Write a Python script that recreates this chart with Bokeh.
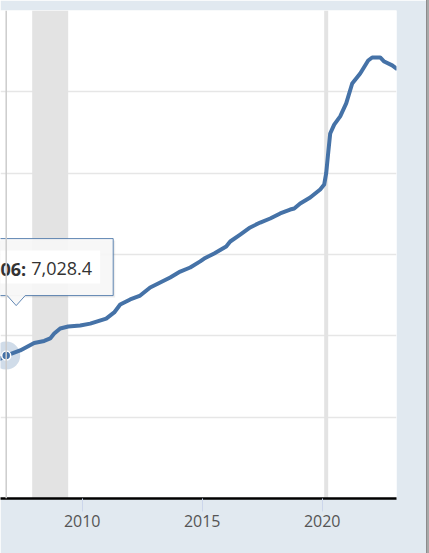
from bokeh.plotting import figure
from bokeh.models import FixedTicker, Span
from bokeh.core.properties import value
from bokeh.embed import file_html
from bokeh.resources import INLINE

# ---- data (M2 money stock, billions of dollars) ----
dates = ["2006-08", "2006-11", "2007-06", "2008-01", "2008-06", "2008-09", "2008-11",
         "2009-02", "2009-06", "2009-12", "2010-05", "2011-01", "2011-05", "2011-08",
         "2012-01", "2012-06", "2012-11", "2013-04", "2013-09", "2014-02", "2014-07",
         "2014-12", "2015-02", "2015-07", "2016-01", "2016-03", "2016-08", "2017-01",
         "2017-06", "2017-11", "2018-04", "2018-09", "2018-11", "2019-02", "2019-07",
         "2019-12", "2020-02", "2020-03", "2020-04", "2020-05", "2020-07", "2020-10",
         "2021-01", "2021-04", "2021-08", "2021-12", "2022-02", "2022-06", "2022-08",
         "2022-12", "2023-02"]
m2 = [6880, 7028.4, 7280, 7650, 7750, 7870, 8110,
      8360, 8460, 8510, 8600, 8850, 9150, 9540,
      9790, 9980, 10380, 10620, 10870, 11160, 11360,
      11660, 11800, 12050, 12390, 12640, 12980, 13330,
      13570, 13770, 14020, 14210, 14260, 14510, 14800,
      15200, 15440, 16000, 17000, 17950, 18390, 18790,
      19430, 20410, 20900, 21540, 21690, 21690, 21490,
      21300, 21150]

rec_start = ["2007-12", "2020-02"]
rec_end = ["2009-06", "2020-04"]

tip_date = "2006-11"
tip_value = 7028.4
tip_label = "Nov 2006:"

x_ticks = [2010, 2015, 2020]
y_grid = [0, 4000, 8000, 12000, 16000, 20000]
x_start, x_end = 2006.596, 2023.096
y_start, y_end = 0, 24000

BLUE = "#4572a7"


def dec(s):
    yy, mm = s.split("-")
    return int(yy) + (int(mm) - 1) / 12.0


t = [dec(d) for d in dates]

FW, FH = 396, 488
p = figure(frame_width=FW, frame_height=FH,
           x_range=(x_start, x_end), y_range=(y_start, y_end),
           output_backend="svg", toolbar_location=None,
           min_border_left=0, min_border_right=30,
           min_border_top=10, min_border_bottom=55,
           background_fill_color="white", border_fill_color="#e1e9f0")
p.outline_line_color = None
p.styles = {"box-shadow": "1px 0 0 0 #8c8c8c, 3px 0 0 0 #a8a8a8"}

# grid
p.xgrid.visible = False
p.ygrid.ticker = FixedTicker(ticks=y_grid)
p.ygrid.grid_line_color = "#e6e6e6"
p.ygrid.grid_line_width = 1.5

# axes
p.yaxis.visible = False
ax = p.xaxis[0]
ax.ticker = FixedTicker(ticks=x_ticks)
ax.axis_line_color = "black"
ax.axis_line_width = 2.5
ax.major_tick_line_color = "#ccd6eb"
ax.major_tick_line_width = 1
ax.major_tick_out = 13
ax.major_tick_in = 0
ax.minor_tick_line_color = None
ax.major_label_text_font = "Open Sans"
ax.major_label_text_font_size = "16px"
ax.major_label_text_color = "#555555"
ax.major_label_standoff = 3

# recession shading
p.quad(left=[dec(d) for d in rec_start], right=[dec(d) for d in rec_end],
       bottom=y_start, top=y_end, fill_color="#e3e3e3", line_color=None)

# crosshair
tx, ty = dec(tip_date), tip_value
p.add_layout(Span(location=tx, dimension="height", line_color="#cccccc", line_width=1.5))

# series line
p.line(t, m2, line_color=BLUE, line_width=4, line_join="round", line_cap="round")

# hover marker
p.scatter([tx], [ty], size=28, fill_color=BLUE, fill_alpha=0.25, line_color=None)
p.scatter([tx], [ty], size=9, fill_color=BLUE, line_color="white", line_width=1.5)

# tooltip box (positioned in pixels relative to the hovered point)
sx = FW / (x_end - x_start)
sy = FH / (y_end - y_start)


def px(dx):
    return tx + dx / sx


def py(dy):
    return ty - dy / sy


L, R, T, B = -80, 107, -117, -60
# shadow
p.quad(left=[px(L)], right=[px(R + 2)], top=[py(T + 2)], bottom=[py(B + 2)],
       fill_color="black", fill_alpha=0.07, line_color=None)
p.quad(left=[px(L)], right=[px(R)], top=[py(T)], bottom=[py(B)],
       fill_color="#f7f7f7", fill_alpha=0.92, line_color=None)
p.quad(left=[px(L)], right=[px(94)], top=[py(-105)], bottom=[py(-72)],
       fill_color="white", line_color=None)
p.patch([px(1), px(10), px(19)], [py(B), py(-50), py(B)],
        fill_color="#f7f7f7", fill_alpha=0.92, line_color=None)
bx = [px(L), px(R), px(R), px(19), px(10), px(1), px(L)]
by = [py(T), py(T), py(B), py(B), py(-50), py(B), py(B)]
p.line(bx, by, line_color=BLUE, line_width=1, line_alpha=0.85)

p.text([tx], [ty], text=[tip_label], x_offset=20, y_offset=-87,
       text_align="right", text_baseline="middle",
       text_font=value("Open Sans"), text_font_size="18px",
       text_font_style="bold", text_color="#333333")
p.text([tx], [ty], text=[f"{tip_value:,.1f}"], x_offset=25, y_offset=-87,
       text_align="left", text_baseline="middle",
       text_font=value("Open Sans"), text_font_size="18px",
       text_color="#333333")

open("out.html", "w").write(file_html(p, INLINE))
